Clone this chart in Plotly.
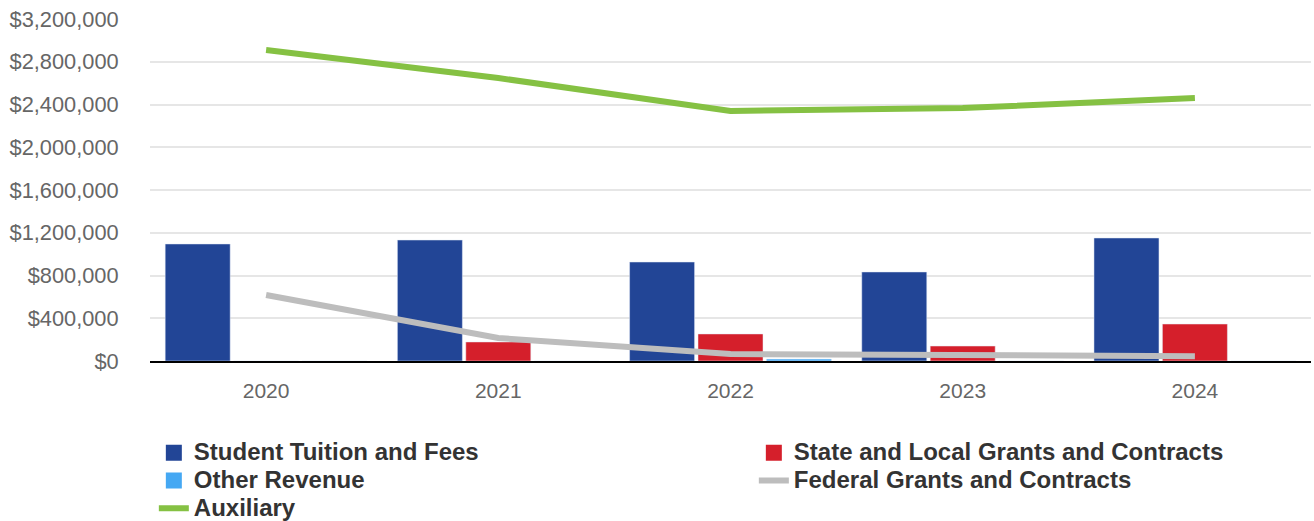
import plotly.graph_objects as go

years = ["2020", "2021", "2022", "2023", "2024"]
tuition = [1095000, 1132000, 926000, 833000, 1151000]
state_local = [0, 178000, 253000, 140000, 346000]
other_rev = [0, 0, 18000, 0, 0]
federal = [617000, 215000, 65000, 55000, 45000]
auxiliary = [2910000, 2648000, 2339000, 2367000, 2461000]

c_tuition = "#224596"
c_state = "#d51f2b"
c_other = "#45a8f3"
c_fed = "#bdbdbd"
c_aux = "#85c143"

def lg(name):
    return '<span style="font-size:24px">' + name + '</span>'

fig = go.Figure()
fig.add_trace(go.Bar(x=years, y=tuition, name="Student Tuition and Fees", marker_color=c_tuition, showlegend=False))
fig.add_trace(go.Bar(x=years, y=state_local, name="State and Local Grants and Contracts", marker_color=c_state, showlegend=False))
fig.add_trace(go.Bar(x=years, y=other_rev, name="Other Revenue", marker_color=c_other, showlegend=False))
fig.add_trace(go.Scatter(x=years, y=federal, name="Federal Grants and Contracts", mode="lines",
                         line=dict(color=c_fed, width=6), showlegend=False))
fig.add_trace(go.Scatter(x=years, y=auxiliary, name="Auxiliary", mode="lines",
                         line=dict(color=c_aux, width=6), showlegend=False))

# legend entries (order: row-major, two columns)
sq = dict(symbol="square", size=21, line=dict(width=0))
fig.add_trace(go.Scatter(x=[None], y=[None], mode="markers", name=lg("Student Tuition and Fees"),
                         marker=dict(color=c_tuition, **sq)))
fig.add_trace(go.Scatter(x=[None], y=[None], mode="markers", name=lg("State and Local Grants and Contracts"),
                         marker=dict(color=c_state, **sq)))
fig.add_trace(go.Scatter(x=[None], y=[None], mode="markers", name=lg("Other Revenue"),
                         marker=dict(color=c_other, **sq)))
fig.add_trace(go.Scatter(x=[None], y=[None], mode="lines", name=lg("Federal Grants and Contracts"),
                         line=dict(color=c_fed, width=6)))
fig.add_trace(go.Scatter(x=[None], y=[None], mode="lines", name=lg("Auxiliary"),
                         line=dict(color=c_aux, width=6)))

fig.update_layout(
    width=1314, height=521,
    margin=dict(l=150, r=3, t=19, b=160, autoexpand=False),
    plot_bgcolor="white", paper_bgcolor="white",
    barmode="group", bargap=0.116, bargroupgap=0.05,
    font=dict(family="Liberation Sans, Arial, sans-serif", color="#666666", size=21),
    showlegend=True,
    legend=dict(orientation="h", x=-0.001, xanchor="left", y=-0.2133, yanchor="top",
                entrywidth=550, entrywidthmode="pixels", traceorder="normal", indentation=5,
                font=dict(size=19, color="#333333", family="Liberation Sans, Arial, sans-serif", weight="bold"),
                itemwidth=30, tracegroupgap=0),
)
fig.update_xaxes(showline=True, linecolor="#000000", linewidth=2, showgrid=False,
                 ticks="outside", ticklen=10, tickcolor="rgba(0,0,0,0)",
                 tickfont=dict(size=21, color="#666666"))
fig.update_yaxes(range=[0, 3200000], dtick=400000, tickprefix="$", tickformat=",",
                 showgrid=True, gridcolor="#e6e6e6", gridwidth=2, zeroline=False,
                 ticks="outside", ticklen=0, ticklabelstandoff=26,
                 tickfont=dict(size=21.8, color="#666666"))

fig.write_html("out.html", config={"displayModeBar": False},
               post_script="document.body.style.margin='0';")
